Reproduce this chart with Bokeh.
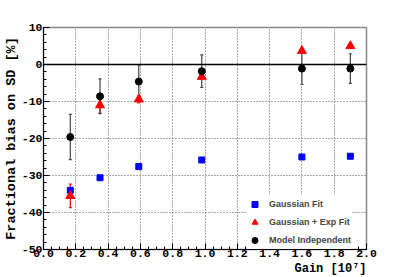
from bokeh.plotting import figure
from bokeh.models import (Range1d, Whisker, TeeHead, ColumnDataSource, Span, Legend, LegendItem,
                          FixedTicker, PrintfTickFormatter, Title)
from bokeh.embed import file_html
from bokeh.resources import INLINE

# data
gain = [0.166, 0.35, 0.59, 0.98, 1.60, 1.90]
gauss_fit = [-34.0, -30.6, -27.6, -25.8, -25.0, -24.8]
gauss_fit_err = [0.5, 0.4, 0.4, 0.3, 0.3, 0.3]
gauss_exp = [-35.5, -11.0, -9.4, -3.3, 3.7, 5.0]
gauss_exp_err = [3.2, 2.2, 1.0, 0.6, 0.5, 0.5]
model_indep = [-19.6, -8.6, -4.6, -1.8, -1.1, -1.1]
model_indep_err = [6.1, 4.7, 4.5, 4.4, 4.3, 4.0]
x_ticks = [0.0, 0.2, 0.4, 0.6, 0.8, 1.0, 1.2, 1.4, 1.6, 1.8, 2.0]
y_ticks = [-50, -40, -30, -20, -10, 0, 10]

p = figure(width=407, height=277, output_backend="svg", toolbar_location=None,
           x_range=Range1d(0, 2.0), y_range=Range1d(-50, 10),
           min_border_left=40, min_border_right=41, min_border_top=27, min_border_bottom=28)
p.background_fill_color = "white"
p.border_fill_color = "white"
p.outline_line_color = "#888888"
p.outline_line_width = 1.5

mono = "Liberation Mono"
for ax in (p.xaxis[0], p.yaxis[0]):
    ax.major_tick_in = 6
    ax.major_tick_out = 0
    ax.minor_tick_in = 3
    ax.minor_tick_out = 0
    ax.axis_line_color = "black"
    ax.axis_line_width = 1
    ax.major_tick_line_color = "black"
    ax.minor_tick_line_color = "black"
    ax.major_label_text_font = mono
    ax.major_label_text_font_style = "bold"
    ax.major_label_text_font_size = "11.5px"
    ax.major_label_text_color = "black"
    ax.axis_label_text_font = mono
    ax.axis_label_text_font_style = "bold"
    ax.axis_label_text_color = "black"

p.xaxis.ticker = FixedTicker(ticks=x_ticks, minor_ticks=[i * 0.05 for i in range(41)])
p.yaxis.ticker = FixedTicker(ticks=y_ticks, minor_ticks=list(range(-50, 11, 2)))
p.xaxis.formatter = PrintfTickFormatter(format="%.1f")
p.yaxis.formatter = PrintfTickFormatter(format="%d")
p.xaxis.major_label_standoff = 0
p.yaxis.major_label_standoff = 1

p.yaxis.axis_label = "Fractional bias on SD [%]"
p.yaxis.axis_label_text_font_size = "13.5px"
p.yaxis.axis_label_standoff = 0

xtitle = Title(text="Gain [10⁷]", align="right", text_font=mono, text_font_style="bold",
               text_font_size="12px", text_color="black", standoff=0, offset=0)
p.add_layout(xtitle, "below")

p.xgrid.ticker = FixedTicker(ticks=x_ticks)
p.ygrid.ticker = FixedTicker(ticks=y_ticks)
for g in (p.xgrid[0], p.ygrid[0]):
    g.grid_line_color = "#555555"
    g.grid_line_dash = "1 2"
    g.grid_line_width = 1

p.add_layout(Span(location=0, dimension="width", line_color="black", line_width=1.5))

def errs(vals, e):
    return [v - d for v, d in zip(vals, e)], [v + d for v, d in zip(vals, e)]

lo, hi = errs(model_indep, model_indep_err)
src_m = ColumnDataSource(dict(x=gain, y=model_indep, lo=lo, hi=hi))
lo, hi = errs(gauss_exp, gauss_exp_err)
src_e = ColumnDataSource(dict(x=gain, y=gauss_exp, lo=lo, hi=hi))
lo, hi = errs(gauss_fit, gauss_fit_err)
src_g = ColumnDataSource(dict(x=gain, y=gauss_fit, lo=lo, hi=hi))

for src, col in ((src_g, "blue"), (src_e, "red"), (src_m, "#444444")):
    p.add_layout(Whisker(source=src, base="x", lower="lo", upper="hi", dimension="height",
                         line_color=col, line_width=1.2,
                         upper_head=TeeHead(size=3, line_color=col, line_width=1.2),
                         lower_head=TeeHead(size=3, line_color=col, line_width=1.2)))

r_g = p.scatter("x", "y", source=src_g, marker="square", size=6, color="blue")
r_e = p.scatter("x", "y", source=src_e, marker="triangle", size=9, color="red")
r_m = p.scatter("x", "y", source=src_m, marker="circle", size=7, color="black")

legend = Legend(items=[
    LegendItem(label="Gaussian Fit", renderers=[r_g]),
    LegendItem(label="Gaussian + Exp Fit", renderers=[r_e]),
    LegendItem(label="Model Independent", renderers=[r_m]),
], location=(204, 0))
legend.label_text_font = "Liberation Sans"
legend.label_text_font_style = "bold"
legend.label_text_font_size = "9px"
legend.glyph_width = 15
legend.glyph_height = 18
legend.spacing = 0
legend.padding = 8
legend.margin = 0
legend.label_standoff = 7
legend.border_line_color = None
legend.background_fill_color = "white"
legend.background_fill_alpha = 1.0
p.add_layout(legend)

open("out.html", "w").write(file_html(p, INLINE))
